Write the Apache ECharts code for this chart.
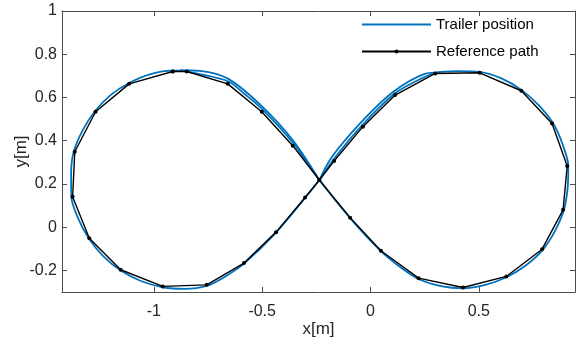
<!DOCTYPE html>
<html>
<head>
<meta charset="utf-8">
<script src="https://cdn.jsdelivr.net/npm/echarts@6/dist/echarts.min.js"></script>
<style>html,body{margin:0;padding:0;background:#fff}#c{width:576px;height:342px}</style>
</head>
<body>
<div id="c"></div>
<script>
// Reference path vertices (figure-eight, closed)
var refX = [-0.913,-0.848,-0.659,-0.502,-0.359,-0.236,-0.094,0.048,0.222,0.427,0.627,0.792,0.889,0.908,0.838,0.696,0.504,0.299,0.114,-0.035,-0.168,-0.236,-0.302,-0.436,-0.584,-0.756,-0.959,-1.153,-1.298,-1.375,-1.365,-1.269,-1.114,-0.913];
var refY = [0.720,0.720,0.663,0.534,0.377,0.218,0.044,-0.109,-0.236,-0.279,-0.228,-0.102,0.080,0.283,0.480,0.631,0.714,0.711,0.611,0.465,0.306,0.218,0.137,-0.023,-0.166,-0.267,-0.274,-0.197,-0.051,0.141,0.349,0.534,0.663,0.720];

// Trailer position, main lap
var trailX = [-0.880,-0.787,-0.656,-0.580,-0.502,-0.359,-0.236,-0.094,0.048,0.135,0.222,0.325,0.427,0.530,0.627,0.718,0.794,0.852,0.893,0.910,0.913,0.885,0.842,0.775,0.698,0.604,0.504,0.400,0.299,0.205,0.110,-0.039,-0.172,-0.236,-0.302,-0.436,-0.584,-0.670,-0.756,-0.858,-0.959,-1.060,-1.153,-1.235,-1.300,-1.350,-1.381,-1.382,-1.370,-1.328,-1.272,-1.200,-1.116,-1.015,-0.913,-0.880];
var trailY = [0.724,0.708,0.674,0.615,0.548,0.391,0.218,0.042,-0.111,-0.183,-0.240,-0.273,-0.283,-0.267,-0.232,-0.176,-0.106,-0.017,0.080,0.182,0.283,0.388,0.482,0.566,0.634,0.688,0.718,0.722,0.714,0.673,0.617,0.471,0.312,0.218,0.135,-0.025,-0.169,-0.228,-0.272,-0.286,-0.278,-0.249,-0.201,-0.133,-0.053,0.042,0.141,0.246,0.349,0.449,0.536,0.611,0.666,0.708,0.724,0.724];

// Trailer position, first-pass segments (slightly offset)
var passAX = [-0.880,-0.787,-0.656,-0.502,-0.359,-0.236];
var passAY = [0.726,0.723,0.686,0.560,0.403,0.218];
var passBX = [-0.236,-0.180,-0.047,0.104,0.250,0.320];
var passBY = [0.218,0.322,0.481,0.625,0.709,0.716];

// Tick labels
var xTicks = [-1,-0.5,0,0.5];
var yTicks = [-0.2,0,0.2,0.4,0.6,0.8,1];

function zip(a,b){var r=[];for(var i=0;i<a.length;i++)r.push([a[i],b[i]]);return r;}

var FONT = '"Liberation Sans", Arial, Helvetica, sans-serif';
var AX = '#4d4d4d';
var TXT = '#262626';
var BLUE = '#0072BD';

function xAx(pos, showLab){
  return {type:'value', position:pos, min:-1.424, max:0.944,
    axisLine:{show:true,onZero:false,lineStyle:{color:AX,width:1}},
    axisTick:{show:true,inside:true,length:5,customValues:xTicks,lineStyle:{color:AX}},
    axisLabel:{show:showLab,customValues:xTicks,margin:12,fontSize:16,color:TXT,fontFamily:FONT},
    splitLine:{show:false},
    name: showLab ? 'x[m]' : '', nameLocation:'middle', nameGap:29, nameMoveOverlap:false,
    nameTextStyle:{fontSize:17,color:TXT,fontFamily:FONT}};
}
function yAx(pos, showLab){
  return {type:'value', position:pos, min:-0.3, max:1,
    axisLine:{show:true,onZero:false,lineStyle:{color:AX,width:1}},
    axisTick:{show:true,inside:true,length:5,customValues:yTicks,lineStyle:{color:AX}},
    axisLabel:{show:showLab,customValues:yTicks,margin:5,fontSize:16,color:TXT,fontFamily:FONT},
    splitLine:{show:false},
    name: showLab ? 'y[m]' : '', nameLocation:'middle', nameGap:32, nameMoveOverlap:false,
    nameTextStyle:{fontSize:17,color:TXT,fontFamily:FONT}};
}

var chart = echarts.init(document.getElementById('c'), null, {renderer:'canvas'});
chart.setOption({
  animation:false,
  backgroundColor:'#fff',
  grid:{left:62, top:11, width:513, height:281, containLabel:false, outerBoundsMode:'none'},
  legend:{
    orient:'vertical', left:356, top:12, itemWidth:69, itemHeight:5, itemGap:12,
    data:[{name:'Trailer position', itemStyle:{opacity:0}},{name:'Reference path'}],
    textStyle:{fontSize:15,color:'#000',fontFamily:FONT}
  },
  xAxis:[xAx('bottom',true), xAx('top',false)],
  yAxis:[yAx('left',true), yAx('right',false)],
  series:[
    {name:'Trailer position', type:'line', data:zip(trailX,trailY), smooth:0.3, symbol:'none',
     lineStyle:{color:BLUE,width:1.8}, itemStyle:{color:BLUE}, z:2},
    {name:'Trailer position', type:'line', data:zip(passAX,passAY), smooth:0.3, symbol:'none',
     lineStyle:{color:BLUE,width:1.8}, itemStyle:{color:BLUE}, z:2},
    {name:'Trailer position', type:'line', data:zip(passBX,passBY), smooth:0.3, symbol:'none',
     lineStyle:{color:BLUE,width:1.8}, itemStyle:{color:BLUE}, z:2},
    {name:'Reference path', type:'line', data:zip(refX,refY), symbol:'circle', symbolSize:4, showSymbol:true,
     lineStyle:{color:'#000',width:1.4}, itemStyle:{color:'#000'}, z:3}
  ]
});
</script>
</body>
</html>
